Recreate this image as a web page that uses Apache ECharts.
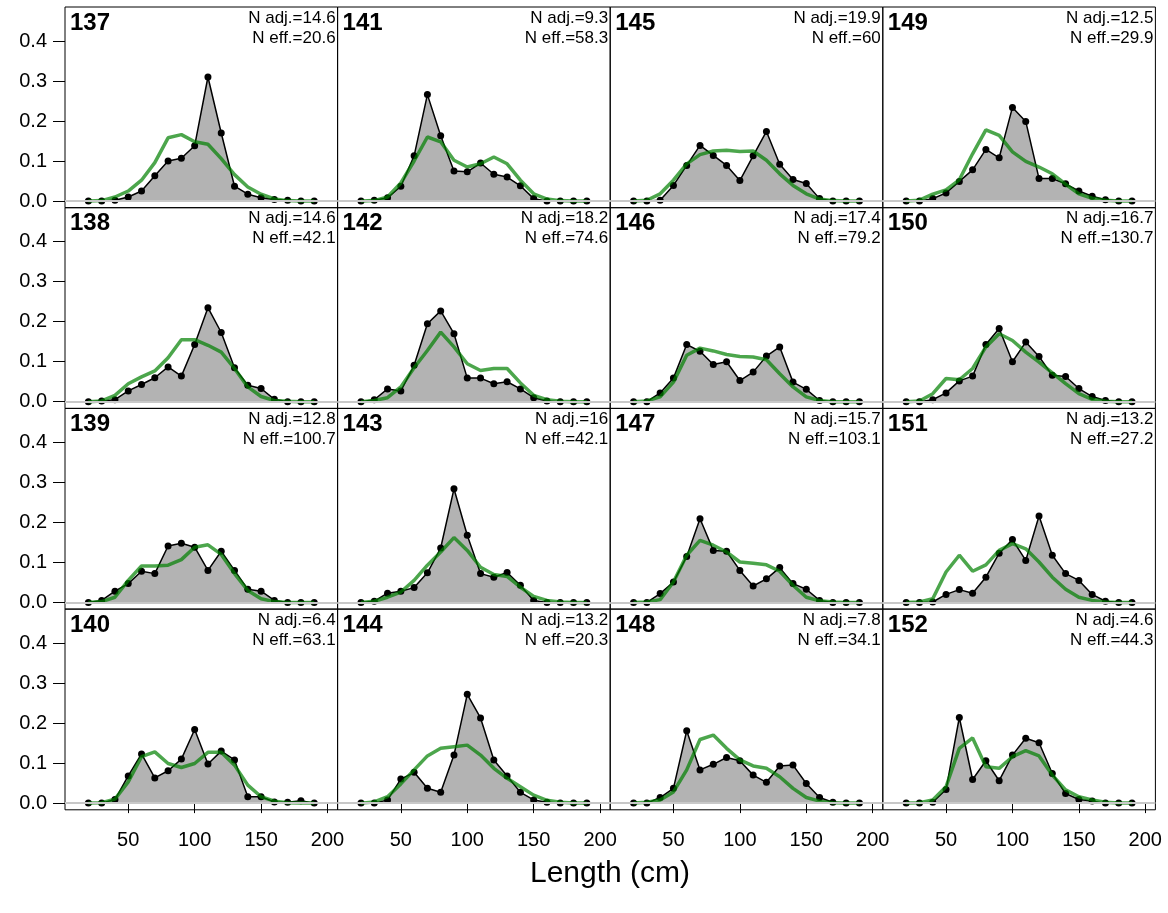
<!DOCTYPE html>
<html>
<head>
<meta charset="utf-8">
<script src="https://cdn.jsdelivr.net/npm/echarts@6/dist/echarts.min.js"></script>
<style>
html,body{margin:0;padding:0;background:#fff;}
#chart{width:1168px;height:913px;}
</style>
</head>
<body>
<div id="chart"></div>
<script>
// ---- data ----
const lengths = [20,30,40,50,60,70,80,90,100,110,120,130,140,150,160,170,180,190];
const xTicks = [50,100,150,200];
const yTicks = [0,0.1,0.2,0.3,0.4];

const obs137 = [0,0,0.002,0.01,0.025,0.063,0.10,0.107,0.138,0.31,0.17,0.037,0.017,0.008,0.004,0.002,0,0];
const exp137 = [0,0.001,0.01,0.025,0.052,0.096,0.158,0.166,0.148,0.142,0.106,0.066,0.035,0.017,0.005,0.001,0,0];
const obs138 = [0,0.002,0.005,0.027,0.043,0.06,0.087,0.064,0.143,0.235,0.173,0.085,0.041,0.033,0.006,0,0,0];
const exp138 = [0,0.002,0.016,0.045,0.062,0.077,0.11,0.155,0.155,0.141,0.124,0.083,0.037,0.013,0.003,0.001,0,0];
const obs139 = [0,0.005,0.028,0.047,0.078,0.072,0.141,0.148,0.138,0.08,0.128,0.08,0.033,0.028,0.005,0,0,0];
const exp139 = [0,0.002,0.013,0.055,0.091,0.091,0.093,0.107,0.138,0.144,0.12,0.072,0.03,0.009,0.002,0,0,0];
const obs140 = [0,0,0.009,0.068,0.123,0.063,0.081,0.11,0.184,0.098,0.13,0.108,0.016,0.016,0.003,0.002,0.006,0];
const exp140 = [0,0.001,0.01,0.053,0.116,0.128,0.099,0.089,0.099,0.127,0.127,0.095,0.045,0.016,0.005,0.001,0,0];
const obs141 = [0,0.002,0.008,0.037,0.113,0.266,0.163,0.075,0.073,0.095,0.067,0.06,0.038,0.006,0,0,0,0];
const exp141 = [0,0.001,0.01,0.045,0.10,0.16,0.148,0.102,0.085,0.093,0.11,0.093,0.052,0.018,0.005,0.001,0,0];
const obs142 = [0,0.005,0.032,0.027,0.091,0.195,0.227,0.17,0.059,0.059,0.045,0.05,0.032,0.01,0.002,0,0,0];
const exp142 = [0,0.003,0.01,0.037,0.085,0.128,0.174,0.137,0.095,0.078,0.083,0.083,0.047,0.016,0.005,0.001,0,0];
const obs143 = [0,0.003,0.023,0.028,0.037,0.074,0.136,0.284,0.168,0.072,0.063,0.075,0.043,0.005,0,0,0,0];
const exp143 = [0,0.003,0.013,0.026,0.055,0.093,0.126,0.162,0.13,0.088,0.07,0.065,0.038,0.015,0.005,0.001,0,0];
const obs144 = [0,0,0.008,0.06,0.077,0.037,0.027,0.12,0.272,0.213,0.108,0.068,0.027,0.008,0.002,0,0,0];
const exp144 = [0,0.003,0.016,0.048,0.083,0.118,0.137,0.141,0.145,0.12,0.087,0.062,0.041,0.02,0.007,0.002,0,0];
const obs145 = [0,0,0.002,0.039,0.089,0.139,0.114,0.089,0.051,0.113,0.174,0.092,0.054,0.044,0.006,0,0,0];
const exp145 = [0,0.002,0.018,0.052,0.093,0.116,0.125,0.127,0.124,0.125,0.102,0.068,0.039,0.018,0.005,0.001,0,0];
const obs146 = [0,0,0.022,0.059,0.143,0.126,0.093,0.1,0.053,0.074,0.114,0.137,0.049,0.031,0.003,0,0,0];
const exp146 = [0,0.002,0.012,0.049,0.116,0.134,0.127,0.118,0.113,0.112,0.105,0.07,0.037,0.012,0.003,0,0,0];
const obs147 = [0,0,0.022,0.051,0.115,0.209,0.13,0.128,0.08,0.041,0.059,0.087,0.047,0.033,0.005,0,0,0];
const exp147 = [0,0.001,0.007,0.051,0.118,0.155,0.143,0.126,0.101,0.098,0.094,0.078,0.043,0.013,0.004,0.001,0,0];
const obs148 = [0,0,0.014,0.037,0.181,0.083,0.097,0.114,0.106,0.07,0.052,0.093,0.095,0.049,0.014,0.002,0,0];
const exp148 = [0,0.002,0.008,0.028,0.083,0.159,0.17,0.137,0.108,0.093,0.087,0.066,0.037,0.014,0.005,0.001,0,0];
const obs149 = [0,0,0.006,0.02,0.049,0.078,0.129,0.108,0.234,0.199,0.056,0.056,0.043,0.025,0.012,0.003,0,0];
const exp149 = [0,0.002,0.017,0.028,0.053,0.118,0.178,0.164,0.123,0.099,0.085,0.068,0.042,0.018,0.007,0.002,0,0];
const obs150 = [0,0,0.005,0.022,0.052,0.064,0.143,0.183,0.1,0.149,0.113,0.066,0.063,0.033,0.013,0.003,0,0];
const exp150 = [0,0.002,0.02,0.058,0.055,0.083,0.137,0.17,0.153,0.124,0.099,0.072,0.045,0.02,0.006,0.001,0,0];
const obs151 = [0,0,0.001,0.02,0.032,0.023,0.063,0.123,0.157,0.105,0.216,0.118,0.072,0.055,0.02,0.003,0,0];
const exp151 = [0,0.001,0.009,0.076,0.118,0.078,0.094,0.13,0.147,0.134,0.101,0.063,0.033,0.013,0.005,0.001,0,0];
const obs152 = [0,0,0.002,0.034,0.214,0.059,0.106,0.056,0.12,0.162,0.151,0.074,0.024,0.009,0.005,0,0,0];
const exp152 = [0,0.001,0.008,0.041,0.137,0.163,0.091,0.087,0.116,0.131,0.118,0.07,0.033,0.016,0.008,0.002,0,0];

const panelIds = [137,138,139,140,141,142,143,144,145,146,147,148,149,150,151,152];
const nAdj = ['14.6','14.6','12.8','6.4','9.3','18.2','16','13.2','19.9','17.4','15.7','7.8','12.5','16.7','13.2','4.6'];
const nEff = ['20.6','42.1','100.7','63.1','58.3','74.6','42.1','20.3','60','79.2','103.1','34.1','29.9','130.7','27.2','44.3'];
const obsList = [obs137,obs138,obs139,obs140,obs141,obs142,obs143,obs144,obs145,obs146,obs147,obs148,obs149,obs150,obs151,obs152];
const expList = [exp137,exp138,exp139,exp140,exp141,exp142,exp143,exp144,exp145,exp146,exp147,exp148,exp149,exp150,exp151,exp152];

// ---- layout ----
const L0 = 65, T0 = 7, PW = 272.6, PH = 200.7;
const XMIN = 2.4, XMAX = 207.6, YMIN = -0.0167, YMAX = 0.485;
const FONT = '"Liberation Sans", Arial, Helvetica, sans-serif';

const grids = [], xAxes = [], yAxes = [], series = [], graphics = [];
panelIds.forEach((id, k) => {
  const col = Math.floor(k / 4), row = k % 4;
  const left = L0 + col * PW, top = T0 + row * PH;
  grids.push({left: left, top: top, width: PW, height: PH, show: true,
    borderColor: '#000', borderWidth: 1, backgroundColor: 'transparent', containLabel: false});
  const bottomRow = row === 3, leftCol = col === 0;
  xAxes.push({type: 'value', gridIndex: k, min: XMIN, max: XMAX,
    axisLine: {show: false}, splitLine: {show: false},
    axisTick: {show: bottomRow, inside: false, length: 10, customValues: xTicks, lineStyle: {color: '#000', width: 1}},
    axisLabel: {show: bottomRow, customValues: xTicks, margin: 21, color: '#000', fontSize: 20, fontFamily: FONT}});
  yAxes.push({type: 'value', gridIndex: k, min: YMIN, max: YMAX,
    axisLine: {show: false}, splitLine: {show: false},
    axisTick: {show: leftCol, inside: false, length: 12, customValues: yTicks, lineStyle: {color: '#000', width: 1}},
    axisLabel: {show: leftCol, customValues: yTicks, margin: 18, color: '#000', fontSize: 20, fontFamily: FONT,
      formatter: v => v.toFixed(1)}});
  const obs = obsList[k], ex = expList[k];
  // observed: grey filled polygon
  series.push({type: 'line', xAxisIndex: k, yAxisIndex: k,
    data: lengths.map((l, i) => [l, obs[i]]),
    symbol: 'none', lineStyle: {width: 0, opacity: 0},
    areaStyle: {color: '#b3b3b3', opacity: 1, origin: 0},
    z: 1, animation: false, silent: true});
  // zero reference line
  series.push({type: 'line', xAxisIndex: k, yAxisIndex: k, data: [], z: 2, silent: true,
    markLine: {silent: true, symbol: 'none', label: {show: false}, animation: false,
      lineStyle: {color: '#c8c8c8', width: 2, type: 'solid'}, data: [{yAxis: 0}]}});
  // observed: black line with points
  series.push({type: 'line', xAxisIndex: k, yAxisIndex: k,
    data: lengths.map((l, i) => [l, obs[i]]),
    symbol: 'circle', symbolSize: 7, showSymbol: true,
    itemStyle: {color: '#000'}, lineStyle: {color: '#000', width: 1.5},
    z: 3, animation: false});
  // expected: green line
  series.push({type: 'line', xAxisIndex: k, yAxisIndex: k,
    data: lengths.map((l, i) => [l, ex[i]]),
    symbol: 'none', lineStyle: {color: 'rgba(0,128,0,0.7)', width: 3.5},
    z: 4, animation: false});
  graphics.push({type: 'text', left: left + 5, top: top + 4, z: 10,
    style: {text: String(id), font: 'bold 24px ' + FONT, fill: '#000'}});
  graphics.push({type: 'text', z: 10,
    style: {x: left + PW - 2, y: top + 1, text: 'N adj.=' + nAdj[k] + '\nN eff.=' + nEff[k],
      align: 'right', verticalAlign: 'top', textAlign: 'right', textVerticalAlign: 'top',
      font: '17px ' + FONT, lineHeight: 20, fill: '#000'}});
});
graphics.push({type: 'text', z: 10,
  style: {x: 610, y: 874, text: 'Length (cm)', align: 'center', verticalAlign: 'middle',
    textAlign: 'center', textVerticalAlign: 'middle', font: '30px ' + FONT, fill: '#000'}});

const chart = echarts.init(document.getElementById('chart'), null, {renderer: 'canvas'});
chart.setOption({animation: false, grid: grids, xAxis: xAxes, yAxis: yAxes, series: series, graphic: graphics});
</script>
</body>
</html>
